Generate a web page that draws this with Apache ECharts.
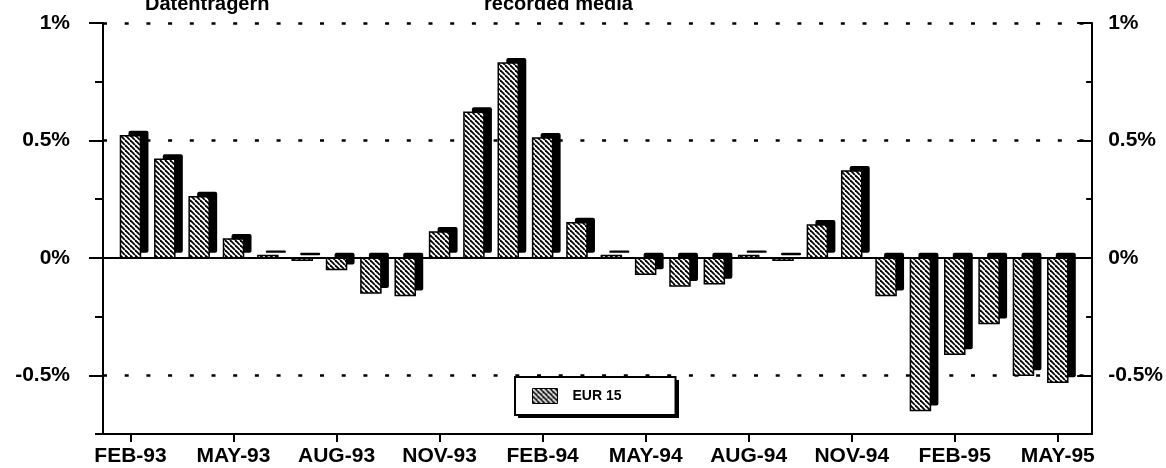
<!DOCTYPE html>
<html>
<head>
<meta charset="utf-8">
<script src="https://cdn.jsdelivr.net/npm/echarts@6/dist/echarts.min.js"></script>
<style>
  html, body { margin: 0; padding: 0; background: #fff; }
  #chart { width: 1166px; height: 468px; }
</style>
</head>
<body>
<div id="chart"></div>
<script>
// monthly change, EUR 15
const months = [
  'FEB-93', 'MAR-93', 'APR-93', 'MAY-93', 'JUN-93', 'JUL-93', 'AUG-93', 'SEP-93', 'OCT-93', 'NOV-93', 'DEC-93',
  'JAN-94', 'FEB-94', 'MAR-94', 'APR-94', 'MAY-94', 'JUN-94', 'JUL-94', 'AUG-94', 'SEP-94', 'OCT-94', 'NOV-94', 'DEC-94',
  'JAN-95', 'FEB-95', 'MAR-95', 'APR-95', 'MAY-95'
]
const eur15 = [
  0.52, 0.42, 0.26, 0.08, 0.01, -0.01, -0.05, -0.15, -0.16, 0.11, 0.62,
  0.83, 0.51, 0.15, 0.01, -0.07, -0.12, -0.11, 0.01, -0.01, 0.14, 0.37, -0.16,
  -0.65, -0.41, -0.28, -0.50, -0.53
]
const xTickLabels = ['FEB-93', 'MAY-93', 'AUG-93', 'NOV-93', 'FEB-94', 'MAY-94', 'AUG-94', 'NOV-94', 'FEB-95', 'MAY-95']
const yTickValues = [-0.5, 0, 0.5, 1]
const yTickLabels = ['-0.5%', '0%', '0.5%', '1%']
const yMinorValues = [-0.75, -0.25, 0.25, 0.75]
const gridValues = [-0.5, 0.5, 1]

const FONT = '"Liberation Sans", Arial, sans-serif'

// diagonal hatch pattern ("\" lines)
function hatch(fg, bg) {
  const s = 5
  const c = document.createElement('canvas')
  c.width = s
  c.height = s
  const g = c.getContext('2d')
  g.fillStyle = bg
  g.fillRect(0, 0, s, s)
  g.strokeStyle = fg
  g.lineWidth = 1.8
  for (const d of [-s, 0, s]) {
    g.beginPath()
    g.moveTo(d, 0)
    g.lineTo(d + s, s)
    g.stroke()
  }
  return c
}

const barFill = { image: hatch('#000', '#fff'), repeat: 'repeat' }
const xTickIdx = xTickLabels.map(m => months.indexOf(m))
const yLabelFmt = v => yTickLabels[yTickValues.indexOf(v)]

const yBase = { type: 'value', min: -0.75, max: 1, splitLine: { show: false } }

// 3D-looking bar: black block behind, hatched face in front
const renderBar = (params, api) => {
  const i = api.value(0)
  const v = api.value(1)
  const top = api.coord([i, Math.max(v, 0)])
  const bot = api.coord([i, Math.min(v, 0)])
  const w = 20
  const x = top[0] - w / 2
  const y = top[1]
  const h = bot[1] - top[1]
  return {
    type: 'group',
    children: [
      { type: 'rect', shape: { x: x + 8, y: y - 5, width: w, height: h, r: 2 }, style: { fill: '#000' } },
      { type: 'rect', shape: { x: x, y: y, width: w, height: h }, style: { fill: barFill, stroke: '#000', lineWidth: 1.5 } }
    ]
  }
}

const myChart = echarts.init(document.getElementById('chart'))

const option = {
  backgroundColor: '#fff',
  animation: false,
  grid: { left: 103, right: 73, top: 23, bottom: 34 },
  graphic: [
    { type: 'text', left: 145, top: -6, style: { text: 'Datenträgern', font: 'bold 20px ' + FONT, fill: '#000' } },
    { type: 'text', left: 484, top: -6, style: { text: 'recorded media', font: 'bold 20px ' + FONT, fill: '#000' } },
    // legend box shadow
    { type: 'rect', left: 518, top: 380, z: 1, shape: { width: 161, height: 38 }, style: { fill: '#000' } }
  ],
  legend: {
    data: ['EUR 15'],
    icon: 'rect',
    left: 515,
    top: 377,
    itemWidth: 25,
    itemHeight: 15,
    padding: [11, 54, 11, 17],
    backgroundColor: '#fff',
    borderColor: '#000',
    borderWidth: 2,
    borderRadius: 0,
    itemStyle: {
      color: { image: hatch('#fff', '#000'), repeat: 'repeat' },
      borderColor: '#000',
      borderWidth: 1
    },
    textStyle: { fontFamily: FONT, fontWeight: 'bold', fontSize: 14, color: '#000', padding: [0, 0, 0, 10] }
  },
  xAxis: {
    type: 'value',
    min: -0.8,
    max: 28,
    splitLine: { show: false },
    axisLine: { show: true, onZero: false, lineStyle: { color: '#000', width: 2 } },
    axisTick: { show: true, customValues: xTickIdx, length: 8, lineStyle: { color: '#000', width: 2 } },
    axisLabel: {
      customValues: xTickIdx,
      formatter: v => months[v],
      margin: 12,
      fontFamily: FONT, fontWeight: 'bold', fontSize: 21, color: '#000'
    }
  },
  yAxis: [
    {
      ...yBase, position: 'left',
      axisLine: { show: true, onZero: false, lineStyle: { color: '#000', width: 2 } },
      axisTick: { show: true, customValues: yTickValues, length: 14, lineStyle: { color: '#000', width: 2 } },
      axisLabel: { customValues: yTickValues, formatter: yLabelFmt, margin: 33, fontFamily: FONT, fontWeight: 'bold', fontSize: 21, color: '#000' }
    },
    {
      ...yBase, position: 'left',
      axisLine: { show: false, onZero: false },
      axisTick: { show: true, customValues: yMinorValues, length: 8, lineStyle: { color: '#000', width: 2 } },
      axisLabel: { show: false }
    },
    {
      ...yBase, position: 'right',
      axisLine: { show: true, onZero: false, lineStyle: { color: '#000', width: 2 } },
      axisTick: { show: true, inside: true, customValues: yTickValues, length: 15, lineStyle: { color: '#000', width: 2 } },
      axisLabel: { customValues: yTickValues, formatter: yLabelFmt, margin: 16, fontFamily: FONT, fontWeight: 'bold', fontSize: 21, color: '#000' }
    },
    {
      ...yBase, position: 'right',
      axisLine: { show: false, onZero: false },
      axisTick: { show: true, inside: true, customValues: yMinorValues, length: 6, lineStyle: { color: '#000', width: 2 } },
      axisLabel: { show: false }
    },
    {
      // dotted grid lines only
      ...yBase, position: 'left',
      axisLine: { show: false, onZero: false },
      axisTick: { show: false, customValues: gridValues },
      axisLabel: { show: false },
      splitLine: { show: true, lineStyle: { color: '#000', width: 2.5, type: [4, 17.7] } }
    }
  ],
  series: [
    {
      name: 'EUR 15',
      type: 'custom',
      data: eur15.map((v, i) => [i, v]),
      encode: { x: 0, y: 1 },
      renderItem: renderBar,
      itemStyle: { color: '#000' },
      markLine: {
        silent: true,
        symbol: 'none',
        label: { show: false },
        lineStyle: { color: '#000', type: 'solid', width: 2 },
        data: [{ yAxis: 0 }]
      }
    }
  ]
}

myChart.setOption(option)
</script>
</body>
</html>
